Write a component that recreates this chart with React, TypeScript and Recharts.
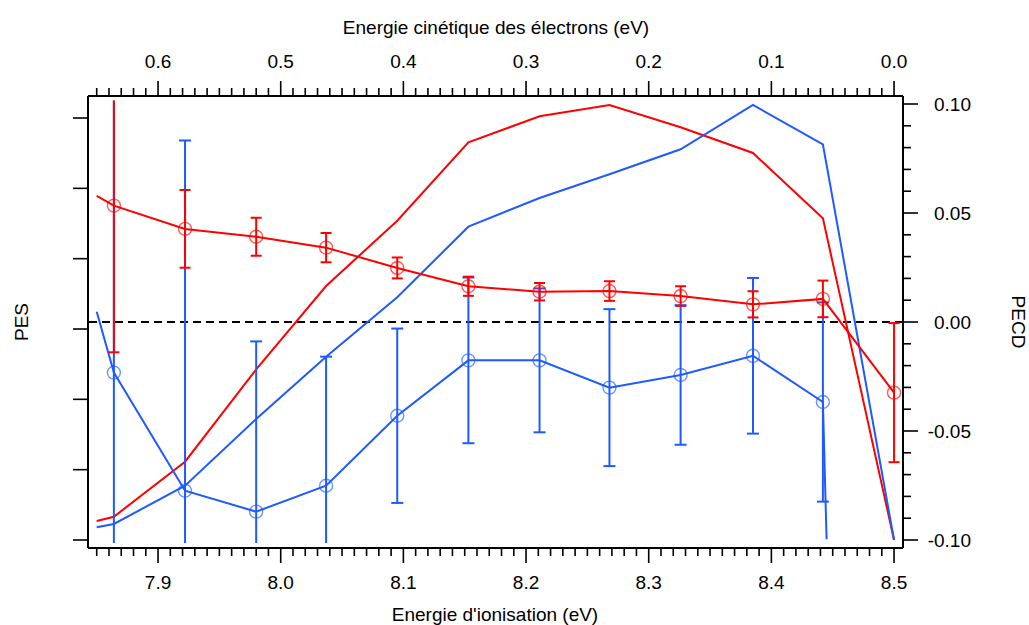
import React from 'react';
import { ComposedChart, Line, XAxis, YAxis, ErrorBar, ReferenceLine } from 'recharts';

// Energie d'ionisation (eV) of the sampled points
const ieValues = [7.85, 7.864, 7.922, 7.98, 8.037, 8.095, 8.153, 8.211, 8.268, 8.326, 8.385, 8.442, 8.5];

// PES (left axis, arbitrary units)
const pesRed = [0.27, 0.331, 1.113, 2.427, 3.611, 4.54, 5.655, 6.024, 6.185, 5.868, 5.503, 4.574, 0];
const pesBlue = [0.18, 0.228, 0.772, 1.72, 2.607, 3.451, 4.455, 4.863, 5.2, 5.555, 6.185, 5.626, 0];

// PECD red (right axis)
const pecdRedX = [7.85, 7.864, 7.922, 7.98, 8.037, 8.095, 8.153, 8.211, 8.268, 8.326, 8.385, 8.442, 8.5];
const pecdRed = [0.0578, 0.0534, 0.0427, 0.0391, 0.0341, 0.0248, 0.0164, 0.0139, 0.0142, 0.0119, 0.0081, 0.0106, -0.0324];
const pecdRedErr = [null, 0.0673, 0.0178, 0.0087, 0.0067, 0.0048, 0.0044, 0.004, 0.0045, 0.0045, 0.006, 0.0084, 0.0319];
const pecdRedMarker = [false, true, true, true, true, true, true, true, true, true, true, true, true];

// PECD blue (right axis)
const pecdBlueX = [7.85, 7.864, 7.922, 7.98, 8.037, 8.095, 8.153, 8.211, 8.268, 8.326, 8.385, 8.442, 8.445];
const pecdBlue = [0.0047, -0.0232, -0.0774, -0.087, -0.0751, -0.043, -0.0176, -0.0176, -0.0301, -0.0243, -0.0155, -0.0367, -0.0997];
const pecdBlueErr = [null, 0.2, 0.1606, 0.0781, 0.0592, 0.04, 0.038, 0.033, 0.036, 0.032, 0.0357, 0.0457, null];
const pecdBlueMarker = [false, true, true, true, true, true, true, true, true, true, true, true, false];

// Tick labels
const bottomTickLabels = ['7.9', '8.0', '8.1', '8.2', '8.3', '8.4', '8.5'];
const topTickLabels = ['0.6', '0.5', '0.4', '0.3', '0.2', '0.1', '0.0'];
const rightTickLabels = ['-0.10', '-0.05', '0.00', '0.05', '0.10'];
const leftTicks = [0, 1, 2, 3, 4, 5, 6];

const RED = '#ff0000';
const BLUE = '#1e5aff';
const FONT = '"Liberation Sans", Arial, sans-serif';
const FS = 19;

const IE_DOMAIN: [number, number] = [7.8429, 8.5073];
const PECD_DOMAIN: [number, number] = [-0.10367, 0.10367];
const PES_DOMAIN: [number, number] = [-0.1137, 6.313];

const pesRedData = ieValues.map((x, i) => ({ x, y: pesRed[i] }));
const pesBlueData = ieValues.map((x, i) => ({ x, y: pesBlue[i] }));
const pecdRedData = pecdRedX.map((x, i) => ({ x, y: pecdRed[i], err: pecdRedErr[i], m: pecdRedMarker[i] }));
const pecdBlueData = pecdBlueX.map((x, i) => ({ x, y: pecdBlue[i], err: pecdBlueErr[i], m: pecdBlueMarker[i] }));

const r2 = (v: number) => Math.round(v * 100) / 100;
const bottomTicks: number[] = [];
for (let i = 0; i <= 65; i++) bottomTicks.push(r2(7.85 + i * 0.01));
const topKE: number[] = [];
for (let i = 0; i <= 65; i++) topKE.push(r2(i * 0.01));
const topTicks = topKE.map((k) => r2(8.5 - k));
const rightTicks: number[] = [];
for (let i = 0; i <= 20; i++) rightTicks.push(r2(-0.1 + i * 0.01));

const findLabel = (labels: string[], v: number) =>
  labels.find((s) => Math.abs(parseFloat(s) - v) < 1e-6);

const BottomTick = (props: any) => {
  const { x, y, payload } = props;
  const label = findLabel(bottomTickLabels, payload.value);
  return (
    <g>
      <line x1={x} x2={x} y1={y} y2={y + (label ? 15 : 8)} stroke="#000" strokeWidth={1.6} />
      {label && (
        <text x={x} y={y + 41} textAnchor="middle" fontFamily={FONT} fontSize={FS} fill="#000">
          {label}
        </text>
      )}
    </g>
  );
};

const TopTick = (props: any) => {
  const { x, y, payload } = props;
  const ke = r2(8.5 - payload.value);
  const label = findLabel(topTickLabels, ke);
  return (
    <g>
      <line x1={x} x2={x} y1={y} y2={y - (label ? 15 : 8)} stroke="#000" strokeWidth={1.6} />
      {label && (
        <text x={x} y={y - 28} textAnchor="middle" fontFamily={FONT} fontSize={FS} fill="#000">
          {label}
        </text>
      )}
    </g>
  );
};

const RightTick = (props: any) => {
  const { x, y, payload } = props;
  const label = findLabel(rightTickLabels, payload.value);
  return (
    <g>
      <line x1={x} x2={x + (label ? 15 : 8)} y1={y} y2={y} stroke="#000" strokeWidth={1.6} />
      {label && (
        <text x={x + 68} y={y + 7} textAnchor="end" fontFamily={FONT} fontSize={FS} fill="#000">
          {label}
        </text>
      )}
    </g>
  );
};

const LeftTick = (props: any) => {
  const { x, y } = props;
  return (
    <g>
      <line x1={x - 15} x2={x} y1={y} y2={y} stroke="#000" strokeWidth={1.6} />
    </g>
  );
};

const makeDot = (color: string) => (props: any) => {
  const { cx, cy, payload, index } = props;
  if (!payload || !payload.m || cx == null || cy == null) return <g key={`d-${color}-${index}`} />;
  return (
    <circle
      key={`d-${color}-${index}`}
      cx={cx}
      cy={cy}
      r={6.5}
      fill="none"
      stroke={color}
      strokeOpacity={0.65}
      strokeWidth={1.4}
    />
  );
};

export default function App() {
  return (
    <div style={{ position: 'absolute', left: 0, top: 0, width: 1029, height: 625, background: '#fff' }}>
      <ComposedChart
        width={1029}
        height={625}
        margin={{ top: 36, left: 28, right: 26, bottom: 17 }}
      >
        <defs>
          <clipPath id="errClip">
            <rect x={88} y={100.5} width={815} height={442.5} />
          </clipPath>
        </defs>
        <XAxis
          xAxisId="ie"
          dataKey="x"
          type="number"
          domain={IE_DOMAIN}
          allowDataOverflow
          ticks={bottomTicks}
          interval={0}
          tick={<BottomTick />}
          tickLine={false}
          tickSize={0}
          tickMargin={0}
          axisLine={{ stroke: '#000', strokeWidth: 2 }}
          height={60}
        />
        <XAxis
          xAxisId="top"
          orientation="top"
          dataKey="x"
          type="number"
          domain={IE_DOMAIN}
          allowDataOverflow
          ticks={topTicks}
          interval={0}
          tick={<TopTick />}
          tickLine={false}
          tickSize={0}
          tickMargin={0}
          axisLine={{ stroke: '#000', strokeWidth: 2 }}
          height={60}
        />
        <YAxis
          yAxisId="pes"
          orientation="left"
          type="number"
          domain={PES_DOMAIN}
          allowDataOverflow
          ticks={leftTicks}
          interval={0}
          tick={<LeftTick />}
          tickLine={false}
          tickSize={0}
          tickMargin={0}
          axisLine={{ stroke: '#000', strokeWidth: 2 }}
          width={60}
        />
        <YAxis
          yAxisId="pecd"
          orientation="right"
          type="number"
          domain={PECD_DOMAIN}
          allowDataOverflow
          ticks={rightTicks}
          interval={0}
          tick={<RightTick />}
          tickLine={false}
          tickSize={0}
          tickMargin={0}
          axisLine={{ stroke: '#000', strokeWidth: 2 }}
          width={100}
        />
        <ReferenceLine
          xAxisId="ie"
          yAxisId="pecd"
          y={0}
          stroke="#000"
          strokeWidth={2}
          strokeDasharray="8 5"
        />
        <Line
          xAxisId="ie"
          yAxisId="pes"
          data={pesRedData}
          dataKey="y"
          type="linear"
          stroke={RED}
          strokeWidth={2}
          dot={false}
          activeDot={false}
          isAnimationActive={false}
        />
        <Line
          xAxisId="ie"
          yAxisId="pes"
          data={pesBlueData}
          dataKey="y"
          type="linear"
          stroke={BLUE}
          strokeWidth={2}
          dot={false}
          activeDot={false}
          isAnimationActive={false}
        />
        <Line
          xAxisId="ie"
          yAxisId="pecd"
          data={pecdBlueData}
          dataKey="y"
          type="linear"
          stroke={BLUE}
          strokeWidth={2}
          dot={makeDot(BLUE)}
          activeDot={false}
          isAnimationActive={false}
        >
          <ErrorBar
            dataKey="err"
            direction="y"
            width={6}
            stroke={BLUE}
            strokeWidth={2}
            clipPath="url(#errClip)"
            isAnimationActive={false}
          />
        </Line>
        <Line
          xAxisId="ie"
          yAxisId="pecd"
          data={pecdRedData}
          dataKey="y"
          type="linear"
          stroke={RED}
          strokeWidth={2}
          dot={makeDot(RED)}
          activeDot={false}
          isAnimationActive={false}
        >
          <ErrorBar
            dataKey="err"
            direction="y"
            width={5.5}
            stroke={RED}
            strokeWidth={2}
            clipPath="url(#errClip)"
            isAnimationActive={false}
          />
        </Line>
        <text x={496} y={34} textAnchor="middle" fontFamily={FONT} fontSize={FS} fill="#000">
          Energie cinétique des électrons (eV)
        </text>
        <text x={495} y={621} textAnchor="middle" fontFamily={FONT} fontSize={FS} fill="#000">
          Energie d'ionisation (eV)
        </text>
        <text
          x={0}
          y={0}
          transform="translate(28 322) rotate(-90)"
          textAnchor="middle"
          fontFamily={FONT}
          fontSize={FS}
          fill="#000"
        >
          PES
        </text>
        <text
          x={0}
          y={0}
          transform="translate(1012 322) rotate(90)"
          textAnchor="middle"
          fontFamily={FONT}
          fontSize={FS}
          fill="#000"
        >
          PECD
        </text>
      </ComposedChart>
    </div>
  );
}
